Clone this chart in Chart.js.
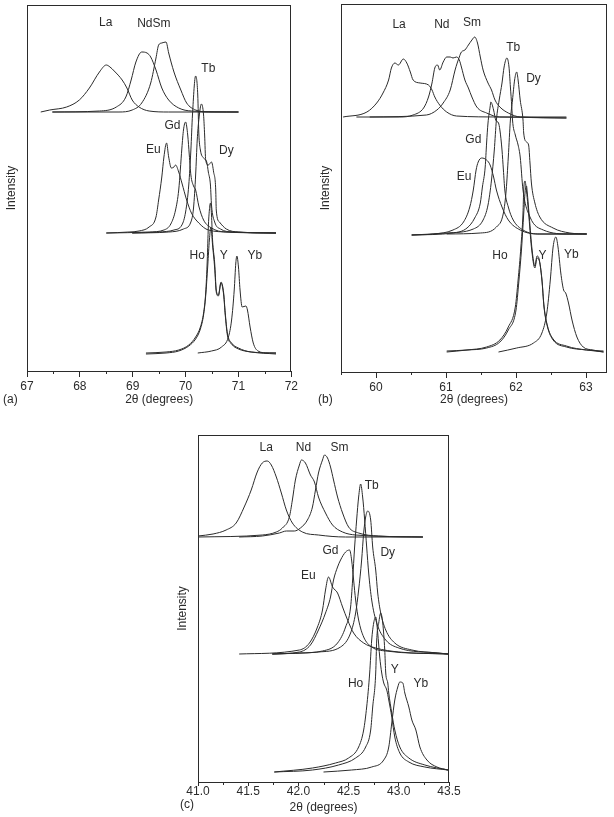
<!DOCTYPE html>
<html>
<head>
<meta charset="utf-8">
<title>XRD peak profiles</title>
<script src="https://cdn.jsdelivr.net/npm/chart.js@4.4.0/dist/chart.umd.min.js"></script>
<style>
  body { margin: 0; background: #fff; width: 614px; height: 817px; position: relative; overflow: hidden; }
  canvas { position: absolute; }
</style>
</head>
<body>
<canvas id="chart-a" width="300" height="410" style="left:0;top:0"></canvas>
<canvas id="chart-b" width="300" height="410" style="left:314px;top:0"></canvas>
<canvas id="chart-c" width="290" height="407" style="left:171px;top:410px"></canvas>
<script>
// ---- panel (a): 2θ 67–72 ----
var A_TICKS = [67, 68, 69, 70, 71, 72];
var A_MINOR = [67.5, 68.5, 69.5, 70.5, 71.5];
var A_LA = [[67.26,259],[67.43,261],[67.75,264],[67.99,271],[68.18,283],[68.37,299],[68.50,306],[68.57,304],[68.65,300],[68.80,291],[68.89,283],[68.99,271],[69.12,264],[69.31,260],[69.68,259],[71.00,259]];
var A_ND = [[67.48,259],[68.37,260],[68.69,264],[68.87,274],[68.97,291],[69.06,309],[69.17,319],[69.27,318],[69.34,314],[69.44,301],[69.55,283],[69.68,271],[69.87,263],[70.11,260],[71.00,259]];
var A_SM = [[67.48,259],[68.74,259],[68.99,261],[69.17,268],[69.34,288],[69.44,313],[69.49,326],[69.55,328],[69.63,329],[69.68,318],[69.78,299],[69.91,281],[70.02,268],[70.19,261],[70.43,259],[71.00,259]];
var A_EU = [[68.50,138],[68.93,139],[69.12,140],[69.31,144],[69.44,154],[69.49,171],[69.55,194],[69.59,214],[69.64,228],[69.68,214],[69.73,203],[69.78,204],[69.81,206],[69.87,199],[69.93,188],[70.02,171],[70.11,158],[70.25,148],[70.43,141],[70.81,139],[71.71,138]];
var A_GD = [[68.50,138],[69.31,139],[69.59,141],[69.72,147],[69.81,161],[69.87,181],[69.90,201],[69.93,223],[69.96,241],[70.00,249],[70.04,236],[70.07,216],[70.10,196],[70.15,185],[70.19,181],[70.25,165],[70.34,151],[70.49,143],[70.75,139],[71.71,138]];
var A_TB = [[68.99,138],[69.49,139],[69.78,141],[69.93,146],[70.00,159],[70.06,186],[70.10,221],[70.13,256],[70.19,295],[70.23,276],[70.25,238],[70.28,221],[70.34,213],[70.40,209],[70.43,199],[70.47,186],[70.49,166],[70.55,149],[70.66,142],[70.90,139],[71.71,138]];
var A_DY = [[68.99,138],[69.68,139],[69.96,142],[70.10,149],[70.15,163],[70.19,196],[70.22,231],[70.25,251],[70.30,267],[70.34,256],[70.36,236],[70.38,211],[70.43,206],[70.49,209],[70.53,199],[70.57,181],[70.58,161],[70.64,149],[70.77,142],[71.00,139],[71.71,138]];
var A_HO = [[69.25,18],[69.63,19],[69.87,21],[70.06,26],[70.19,34],[70.28,44],[70.34,58],[70.38,78],[70.41,111],[70.43,144],[70.45,161],[70.47,168],[70.49,156],[70.51,131],[70.55,108],[70.58,81],[70.62,76],[70.67,89],[70.72,78],[70.75,58],[70.79,38],[70.87,28],[71.00,23],[71.24,19],[71.71,18]];
var A_Y = [[69.25,17],[69.63,18],[69.87,20],[70.06,25],[70.19,32],[70.28,42],[70.34,56],[70.38,75],[70.42,106],[70.45,131],[70.48,144],[70.51,126],[70.55,103],[70.58,79],[70.62,75],[70.67,88],[70.72,76],[70.75,56],[70.79,36],[70.87,27],[71.00,22],[71.24,19],[71.71,17]];
var A_YB = [[70.23,18],[70.49,20],[70.68,24],[70.81,34],[70.87,51],[70.92,81],[70.95,108],[70.97,115],[71.00,104],[71.03,81],[71.07,64],[71.14,65],[71.17,61],[71.22,44],[71.28,28],[71.37,20],[71.56,18],[71.71,18]];
var A_TAGS = ["La", "NdSm", "Tb", "Gd", "Eu", "Dy", "Ho", "Y", "Yb"];
var A_TAG_AT = [[68.49,348],[69.40,347],[70.43,302],[69.75,245],[69.39,221],[70.77,220],[70.22,115],[70.72,115],[71.31,115]];

// ---- panel (b): 2θ 59.5–63.3 ----
var B_TICKS = [60, 61, 62, 63];
var B_MINOR = [59.5, 60.5, 61.5, 62.5];
var B_LA = [[59.53,255],[59.87,260],[60.01,269],[60.10,279],[60.18,292],[60.22,304],[60.27,309],[60.32,307],[60.39,313],[60.44,309],[60.49,300],[60.53,292],[60.63,289],[60.75,287],[60.80,282],[60.84,275],[60.91,267],[61.01,260],[61.15,256],[61.77,255],[62.72,254]];
var B_ND = [[59.72,255],[60.34,255],[60.53,257],[60.68,264],[60.75,275],[60.80,289],[60.84,304],[60.88,307],[60.91,302],[60.96,310],[61.01,315],[61.06,315],[61.10,314],[61.15,315],[61.19,312],[61.22,305],[61.27,292],[61.32,284],[61.37,275],[61.44,265],[61.58,259],[61.77,255],[62.72,255]];
var B_SM = [[59.91,255],[60.72,257],[60.87,262],[60.96,269],[61.06,282],[61.13,302],[61.19,315],[61.22,320],[61.27,322],[61.32,327],[61.37,332],[61.41,335],[61.45,329],[61.49,315],[61.53,302],[61.60,289],[61.65,282],[61.70,272],[61.77,265],[61.89,259],[62.06,255],[62.72,254]];
var B_EU = [[60.51,137],[60.82,138],[61.10,142],[61.25,150],[61.34,165],[61.39,182],[61.43,202],[61.46,210],[61.51,214],[61.58,212],[61.63,207],[61.68,195],[61.72,182],[61.80,165],[61.89,152],[62.06,142],[62.30,138],[63.01,138]];
var B_GD = [[60.51,137],[61.10,139],[61.30,144],[61.41,154],[61.49,169],[61.52,185],[61.56,205],[61.58,229],[61.60,249],[61.63,265],[61.64,270],[61.68,262],[61.71,252],[61.75,249],[61.77,242],[61.80,222],[61.82,202],[61.84,182],[61.89,165],[61.96,152],[62.10,142],[62.34,138],[63.01,138]];
var B_TB = [[60.51,137],[61.01,139],[61.39,143],[61.53,152],[61.60,167],[61.65,192],[61.69,222],[61.72,252],[61.76,272],[61.80,289],[61.83,305],[61.87,314],[61.90,305],[61.92,285],[61.94,265],[61.95,252],[61.99,237],[62.03,227],[62.06,215],[62.10,182],[62.20,155],[62.39,142],[62.77,138],[63.01,138]];
var B_DY = [[61.01,138],[61.49,139],[61.72,145],[61.82,159],[61.86,182],[61.89,215],[61.92,252],[61.95,272],[61.98,292],[62.01,300],[62.03,292],[62.06,272],[62.10,252],[62.11,239],[62.15,230],[62.18,227],[62.20,209],[62.22,189],[62.27,169],[62.34,155],[62.53,144],[62.77,139],[63.01,138]];
var B_HO = [[61.01,20],[61.30,22],[61.58,25],[61.77,32],[61.89,45],[61.99,65],[62.03,92],[62.07,125],[62.10,159],[62.11,182],[62.13,191],[62.14,187],[62.18,159],[62.22,125],[62.27,104],[62.30,114],[62.33,112],[62.37,92],[62.40,65],[62.45,45],[62.53,32],[62.72,25],[63.01,22],[63.25,20]];
var B_Y = [[61.01,21],[61.30,22],[61.58,24],[61.77,30],[61.89,42],[62.00,62],[62.04,90],[62.08,124],[62.11,158],[62.13,180],[62.15,186],[62.16,180],[62.19,155],[62.23,122],[62.27,106],[62.30,116],[62.33,113],[62.37,93],[62.40,66],[62.45,46],[62.53,33],[62.72,26],[63.01,22],[63.25,21]];
var B_YB = [[61.75,20],[62.01,24],[62.25,29],[62.37,39],[62.44,59],[62.49,92],[62.53,125],[62.57,135],[62.60,125],[62.64,99],[62.68,82],[62.71,79],[62.75,69],[62.80,52],[62.87,35],[62.96,25],[63.10,22],[63.25,20]];
var B_TAGS = ["La", "Nd", "Sm", "Tb", "Dy", "Gd", "Eu", "Ho", "Y", "Yb"];
var B_TAG_AT = [[60.33,347],[60.94,347],[61.37,349],[61.96,324],[62.25,293],[61.39,232],[61.26,195],[61.77,116],[62.38,116],[62.79,117]];

// ---- panel (c): 2θ 41.0–43.5 ----
var C_TICKS = [41.0, 41.5, 42.0, 42.5, 43.0, 43.5];
var C_MINOR = [41.25, 41.75, 42.25, 42.75, 43.25];
var C_LA = [[41.00,246],[41.15,248],[41.28,252],[41.38,259],[41.46,275],[41.53,292],[41.59,310],[41.64,319],[41.69,321],[41.73,317],[41.78,305],[41.83,289],[41.88,272],[41.94,259],[42.04,250],[42.20,247],[42.47,245],[43.24,245]];
var C_ND = [[41.00,245],[41.64,247],[41.78,250],[41.84,254],[41.91,265],[41.94,282],[41.97,302],[42.01,317],[42.03,322],[42.07,319],[42.12,307],[42.16,300],[42.20,285],[42.27,269],[42.34,257],[42.44,250],[42.57,247],[43.24,245]];
var C_SM = [[41.41,245],[41.64,246],[41.81,249],[41.88,251],[41.96,251],[42.02,254],[42.09,262],[42.14,275],[42.17,292],[42.20,309],[42.24,322],[42.26,327],[42.29,324],[42.32,315],[42.35,302],[42.39,285],[42.44,269],[42.50,255],[42.60,249],[42.80,246],[43.24,245]];
var C_EU = [[41.41,128],[42.01,132],[42.11,139],[42.19,155],[42.24,172],[42.27,192],[42.30,205],[42.34,195],[42.39,189],[42.44,175],[42.49,162],[42.55,149],[42.65,139],[42.77,134],[43.00,130],[43.49,128]];
var C_GD = [[41.74,128],[42.01,130],[42.12,137],[42.20,152],[42.27,169],[42.32,185],[42.35,202],[42.39,215],[42.42,222],[42.47,230],[42.51,232],[42.53,222],[42.55,202],[42.57,182],[42.60,162],[42.65,145],[42.73,135],[42.87,131],[43.49,128]];
var C_TB = [[41.74,128],[42.01,129],[42.24,131],[42.39,139],[42.47,155],[42.52,175],[42.54,202],[42.56,235],[42.58,262],[42.60,285],[42.62,298],[42.64,285],[42.66,262],[42.68,235],[42.70,209],[42.73,182],[42.78,159],[42.87,142],[43.00,134],[43.39,129],[43.49,128]];
var C_DY = [[41.74,128],[42.20,130],[42.42,135],[42.52,149],[42.57,169],[42.60,192],[42.63,222],[42.65,249],[42.67,265],[42.69,271],[42.72,262],[42.74,235],[42.77,212],[42.79,189],[42.82,169],[42.87,152],[42.96,139],[43.13,132],[43.39,129],[43.49,128]];
var C_HO = [[41.76,10],[42.14,14],[42.37,19],[42.50,24],[42.60,35],[42.65,52],[42.68,75],[42.71,109],[42.73,142],[42.75,159],[42.77,165],[42.79,149],[42.81,125],[42.83,109],[42.85,99],[42.88,92],[42.90,82],[42.93,65],[42.96,45],[43.01,29],[43.10,20],[43.26,15],[43.49,12]];
var C_Y = [[41.76,10],[42.14,12],[42.40,17],[42.57,24],[42.67,35],[42.72,52],[42.74,75],[42.77,109],[42.78,142],[42.80,159],[42.82,169],[42.84,159],[42.86,132],[42.87,109],[42.89,99],[42.90,89],[42.93,69],[42.96,52],[43.01,35],[43.10,24],[43.26,17],[43.49,12]];
var C_YB = [[42.25,10],[42.53,12],[42.73,15],[42.85,22],[42.90,35],[42.93,59],[42.96,82],[42.99,95],[43.01,100],[43.04,99],[43.06,89],[43.10,75],[43.13,62],[43.17,52],[43.21,35],[43.28,22],[43.38,15],[43.49,12]];
var C_TAGS = ["La", "Nd", "Sm", "Tb", "Gd", "Dy", "Eu", "Ho", "Y", "Yb"];
var C_TAG_AT = [[41.68,334],[42.05,334],[42.41,334],[42.73,296],[42.32,231],[42.89,229],[42.10,206],[42.57,98],[42.96,112],[43.22,98]];

(function () {
  "use strict";

  var INK = "#2b2b2b";
  var FONT = "'Liberation Sans', Arial, sans-serif";

  // frame, minor ticks, element labels and panel letter
  var framePlugin = {
    id: "frame",
    afterDraw: function (chart, args, opts) {
      var ctx = chart.ctx;
      var a = chart.chartArea;
      var xs = chart.scales.x;
      var ys = chart.scales.y;
      ctx.save();
      ctx.strokeStyle = INK;
      ctx.lineWidth = 1;
      ctx.strokeRect(Math.round(a.left) + 0.5, Math.round(a.top) + 0.5,
        Math.round(a.right - a.left) - 1, Math.round(a.bottom - a.top));
      ctx.beginPath();
      opts.minor.forEach(function (v) {
        var px = Math.round(xs.getPixelForValue(v)) + 0.5;
        ctx.moveTo(px, a.bottom);
        ctx.lineTo(px, a.bottom + opts.minorLen);
      });
      ctx.stroke();
      ctx.fillStyle = INK;
      ctx.font = "12px " + FONT;
      ctx.textAlign = "center";
      ctx.textBaseline = "middle";
      opts.tags.forEach(function (t, i) {
        var p = opts.tagAt[i];
        ctx.fillText(t, xs.getPixelForValue(p[0]), ys.getPixelForValue(p[1]));
      });
      ctx.textAlign = "left";
      ctx.fillText(opts.letter, opts.letterX, chart.height - opts.letterDy);
      ctx.restore();
    },
  };

  function makePanel(id, p) {
    var datasets = p.curves.map(function (c) {
      return {
        data: c.map(function (pt) {
          return { x: pt[0], y: pt[1] };
        }),
        borderColor: INK,
        borderWidth: 1,
        pointRadius: 0,
        cubicInterpolationMode: "monotone",
        fill: false,
      };
    });
    new Chart(document.getElementById(id), {
      type: "line",
      data: { datasets: datasets },
      plugins: [framePlugin],
      options: {
        responsive: false,
        animation: false,
        devicePixelRatio: 1,
        layout: { padding: { top: p.padTop, right: p.padRight, left: 0, bottom: 0 } },
        plugins: {
          legend: { display: false },
          tooltip: { enabled: false },
          frame: {
            minor: p.minor,
            minorLen: p.minorLen,
            tags: p.tags,
            tagAt: p.tagAt,
            letter: p.letter,
            letterX: p.letterX,
            letterDy: p.letterDy,
          },
        },
        scales: {
          x: {
            type: "linear",
            min: p.min,
            max: p.max,
            afterBuildTicks: function (s) {
              s.ticks = p.ticks.map(function (v) {
                return { value: v };
              });
            },
            afterFit: function (s) {
              s.height = p.axisH;
            },
            grid: { display: true, drawOnChartArea: false, tickLength: p.tickLen, color: INK },
            border: { display: false },
            ticks: {
              color: INK,
              padding: p.tickPad,
              maxRotation: 0,
              autoSkip: false,
              font: { family: FONT, size: 12 },
              callback: function (v) {
                return p.decimals ? v.toFixed(1) : String(v);
              },
            },
            title: {
              display: true,
              text: "2θ (degrees)",
              color: INK,
              font: { family: FONT, size: 12 },
              padding: { top: 0, bottom: p.titlePad },
            },
          },
          y: {
            min: 0,
            max: p.yMax,
            ticks: { display: false },
            grid: { display: false },
            border: { display: false },
            afterFit: function (s) {
              s.width = 27;
            },
            title: {
              display: true,
              text: "Intensity",
              color: INK,
              font: { family: FONT, size: 12 },
            },
          },
        },
      },
    });
  }

  makePanel("chart-a", {
    curves: [A_LA, A_ND, A_SM, A_EU, A_GD, A_TB, A_DY, A_HO, A_Y, A_YB],
    min: 67, max: 72, ticks: A_TICKS, minor: A_MINOR, yMax: 366,
    tags: A_TAGS, tagAt: A_TAG_AT, letter: "(a)", letterX: 3, letterDy: 10,
    padTop: 5, padRight: 7, axisH: 39, tickLen: 6, minorLen: 3, tickPad: 2, titlePad: 3,
  });
  makePanel("chart-b", {
    curves: [B_LA, B_ND, B_SM, B_EU, B_GD, B_TB, B_DY, B_HO, B_Y, B_YB],
    min: 59.5, max: 63.3, ticks: B_TICKS, minor: B_MINOR, yMax: 368,
    tags: B_TAGS, tagAt: B_TAG_AT, letter: "(b)", letterX: 4, letterDy: 10,
    padTop: 4, padRight: 7, axisH: 38, tickLen: 6, minorLen: 3, tickPad: 2, titlePad: 3,
  });
  makePanel("chart-c", {
    curves: [C_LA, C_ND, C_SM, C_EU, C_GD, C_TB, C_DY, C_HO, C_Y, C_YB],
    min: 41, max: 43.5, ticks: C_TICKS, minor: C_MINOR, yMax: 347, decimals: true,
    tags: C_TAGS, tagAt: C_TAG_AT, letter: "(c)", letterX: 9, letterDy: 12,
    padTop: 25, padRight: 12, axisH: 35, tickLen: 4, minorLen: 3, tickPad: -2, titlePad: 2,
  });
})();
</script>
</body>
</html>
